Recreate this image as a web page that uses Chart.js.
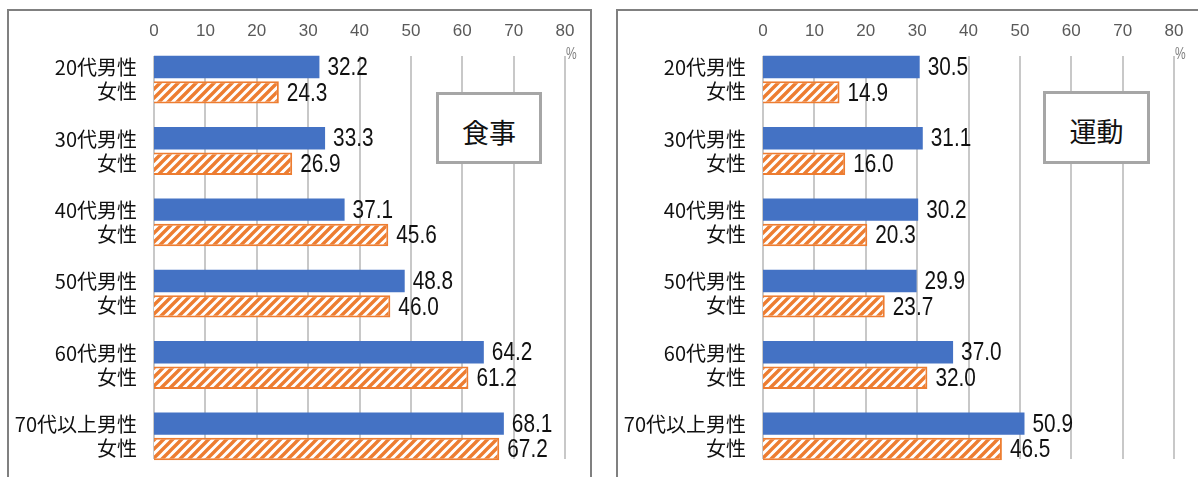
<!DOCTYPE html>
<html>
<head>
<meta charset="utf-8">
<script src="https://cdn.jsdelivr.net/npm/chart.js@4"></script>
<style>
  body { margin: 0; background: #fff; width: 1198px; height: 477px; overflow: hidden; position: relative; }
  .panel { position: absolute; box-sizing: border-box; border: 2px solid #808080; background: #fff; }
  #panelL { left: 7px; top: 9px; width: 585px; height: 520px; }
  #panelR { left: 616px; top: 9px; width: 600px; height: 520px; }
  canvas { position: absolute; }
  #chartL { left: 8px; top: 10px; }
  #chartR { left: 617px; top: 10px; }
  .tag { position: absolute; box-sizing: border-box; border: 3px solid #a6a6a6; background: #fff;
         font-family: "Noto Sans CJK JP", sans-serif; font-size: 27px; color: #111; padding-top: 6px;
         display: flex; align-items: center; justify-content: center; }
  #tagL { left: 436px; top: 92px; width: 106px; height: 72px; }
  #tagR { left: 1043px; top: 91px; width: 107px; height: 73px; }
</style>
</head>
<body>
<div class="panel" id="panelL"></div>
<div class="panel" id="panelR"></div>
<canvas id="chartL" width="581" height="467"></canvas>
<canvas id="chartR" width="581" height="467"></canvas>
<div class="tag" id="tagL">食事</div>
<div class="tag" id="tagR">運動</div>
<script>
// categories (two label lines per group)
const ageGroups = ['20代', '30代', '40代', '50代', '60代', '70代以上'];
const categories = ageGroups.map(a => [a + '男性', '女性']);
const xTicks = [0, 10, 20, 30, 40, 50, 60, 70, 80];

// 食事
const mealMale = [32.2, 33.3, 37.1, 48.8, 64.2, 68.1];
const mealFemale = [24.3, 26.9, 45.6, 46.0, 61.2, 67.2];
// 運動
const exerciseMale = [30.5, 31.1, 30.2, 29.9, 37.0, 50.9];
const exerciseFemale = [14.9, 16.0, 20.3, 23.7, 32.0, 46.5];

const BLUE = '#4472C4';
const ORANGE = '#ED7D31';

function hatch() {
    const c = document.createElement('canvas');
    c.width = 9; c.height = 9;
    const g = c.getContext('2d');
    g.fillStyle = '#fff';
    g.fillRect(0, 0, 9, 9);
    g.strokeStyle = ORANGE;
    g.lineWidth = 3.4;
    g.beginPath();
    g.moveTo(-2, 11); g.lineTo(11, -2);
    g.moveTo(-2, 2); g.lineTo(2, -2);
    g.moveTo(7, 11); g.lineTo(11, 7);
    g.stroke();
    return g.createPattern(c, 'repeat');
}

// custom grid lines (shorter than the plot area), value labels and "%"
const extras = {
    id: 'extras',
    beforeDatasetsDraw(chart) {
        const ctx = chart.ctx;
        const area = chart.chartArea;
        const xs = chart.scales.x;
        ctx.save();
        ctx.strokeStyle = '#c8c8c8';
        ctx.lineWidth = 2;
        xTicks.forEach(v => {
            const px = Math.round(xs.getPixelForValue(v));
            ctx.beginPath();
            ctx.moveTo(px, area.top + 12);
            ctx.lineTo(px, area.bottom - 13);
            ctx.stroke();
        });
        ctx.restore();
    },
    afterDatasetsDraw(chart) {
        const ctx = chart.ctx;
        ctx.save();
        ctx.fillStyle = '#111';
        ctx.textBaseline = 'middle';
        ctx.font = '26px "Liberation Sans", Arial, sans-serif';
        chart.data.datasets.forEach((ds, di) => {
            const meta = chart.getDatasetMeta(di);
            meta.data.forEach((bar, i) => {
                ctx.save();
                ctx.translate(bar.x + 8, bar.y + 1);
                ctx.scale(0.8, 1);
                ctx.fillText(ds.data[i].toFixed(1), 0, 0);
                ctx.restore();
            });
        });
        // unit
        const xs = chart.scales.x;
        ctx.fillStyle = '#7f7f7f';
        ctx.font = '16px "Liberation Sans", Arial, sans-serif';
        ctx.translate(xs.getPixelForValue(80) + 1, chart.chartArea.top + 11);
        ctx.scale(0.75, 1);
        ctx.fillText('%', 0, 0);
        ctx.restore();
    }
};

function noPad(s) {
    s.paddingTop = 0; s.paddingBottom = 0; s.paddingLeft = 0; s.paddingRight = 0;
}

function makeChart(id, male, female) {
    return new Chart(document.getElementById(id), {
        type: 'bar',
        data: {
            labels: categories,
            datasets: [
                { label: '男性', data: male, backgroundColor: BLUE, borderWidth: 0 },
                { label: '女性', data: female, backgroundColor: hatch(), borderColor: ORANGE, borderWidth: 2 }
            ]
        },
        options: {
            indexAxis: 'y',
            responsive: false,
            animation: false,
            categoryPercentage: 0.714,
            barPercentage: 0.88,
            layout: { padding: { right: 24, bottom: 5, top: 0, left: 0 } },
            plugins: { legend: { display: false }, tooltip: { enabled: false } },
            scales: {
                x: {
                    position: 'top',
                    min: 0, max: 80,
                    afterFit: s => { s.height = 34; noPad(s); },
                    afterBuildTicks: s => { s.ticks = xTicks.map(v => ({ value: v })); },
                    grid: { display: false, drawTicks: false },
                    border: { display: false },
                    ticks: {
                        padding: 2,
                        color: '#595959',
                        font: { family: '"Liberation Sans", Arial, sans-serif', size: 17 }
                    }
                },
                y: {
                    afterFit: s => { s.width = 146; noPad(s); },
                    grid: { display: false, drawTicks: false },
                    border: { display: false },
                    ticks: {
                        padding: 17,
                        color: '#111',
                        font: { family: '"Noto Sans CJK JP", sans-serif', size: 20, lineHeight: 1.2 }
                    }
                }
            }
        },
        plugins: [extras]
    });
}

makeChart('chartL', mealMale, mealFemale);
makeChart('chartR', exerciseMale, exerciseFemale);
</script>
</body>
</html>
